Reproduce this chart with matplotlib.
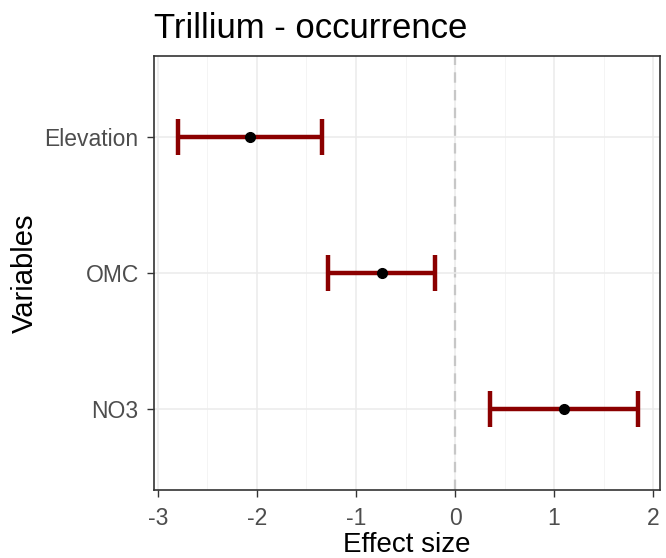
import matplotlib.pyplot as plt
import numpy as np

variables = ["NO3", "OMC", "Elevation"]
estimate = [1.10, -0.74, -2.07]
lower = [0.35, -1.28, -2.80]
upper = [1.85, -0.20, -1.34]

plt.rcParams["font.family"] = ["Liberation Sans", "DejaVu Sans"]
plt.rcParams["axes.unicode_minus"] = False

fig = plt.figure(figsize=(6.66, 5.58), dpi=100)
ax = fig.add_axes([154 / 666, 68 / 558, 506 / 666, 434 / 558])

ypos = np.arange(1, len(variables) + 1)
est = np.array(estimate)
lo = np.array(lower)
hi = np.array(upper)

# ggplot-like theme_bw grid
ax.set_xlim(-3.04, 2.07)
ax.set_ylim(0.4, 3.6)
ax.set_xticks([-3, -2, -1, 0, 1, 2])
ax.set_xticks(np.arange(-2.5, 2.01, 1.0), minor=True)
ax.set_yticks(ypos)
ax.set_yticklabels(variables)
ax.grid(True, which="major", color="#EBEBEB", lw=1.1, zorder=0)
ax.grid(True, which="minor", axis="x", color="#F2F2F2", lw=0.6, zorder=0)
ax.tick_params(which="minor", length=0)
ax.tick_params(which="major", length=5, width=1, color="#333333",
               labelsize=16.5, labelcolor="#4D4D4D")
ax.tick_params(axis="y", pad=6)
ax.tick_params(axis="x", pad=7)
for s in ax.spines.values():
    s.set_color("#333333")
    s.set_linewidth(1.2)

ax.axvline(0, color="#555555", ls=(0, (5, 3.5)), lw=1.5, zorder=1)

ax.errorbar(est, ypos, xerr=[est - lo, hi - est], fmt="none",
            ecolor="#8B0000", elinewidth=3.2, capsize=13, capthick=3.2, zorder=3)
ax.plot(est, ypos, "o", color="black", ms=7, zorder=4)

ax.set_xlabel("Effect size", fontsize=20, labelpad=2)
ax.set_ylabel("Variables", fontsize=21, labelpad=4)
ax.set_title("Trillium - occurrence", fontsize=25, loc="left", pad=13)

fig.savefig("out.png", dpi=100)
